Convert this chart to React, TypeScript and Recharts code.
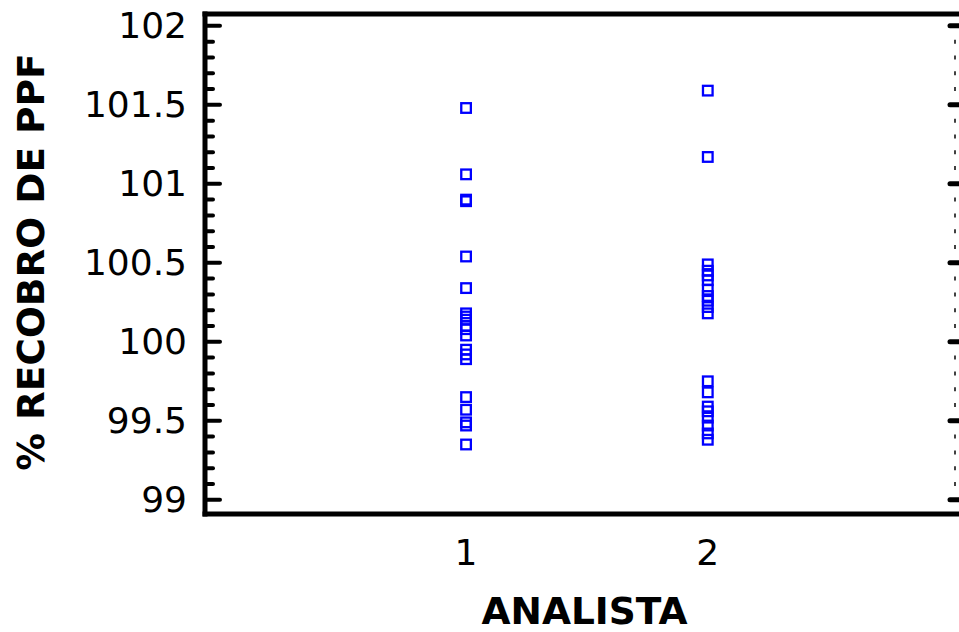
import React from 'react';
import { ScatterChart, Scatter, XAxis, YAxis, ReferenceLine } from 'recharts';

const analyst1 = [101.48, 101.06, 100.9, 100.89, 100.54, 100.34, 100.18, 100.16, 100.14, 100.1, 100.08, 100.04, 99.95, 99.92, 99.89, 99.65, 99.57, 99.49, 99.47, 99.35];
const analyst2 = [101.59, 101.17, 100.49, 100.45, 100.42, 100.39, 100.33, 100.29, 100.26, 100.22, 100.18, 99.75, 99.68, 99.59, 99.56, 99.52, 99.47, 99.42, 99.38];
const xTicks = [1, 2];
const yTicks = [99, 99.1, 99.2, 99.3, 99.4, 99.5, 99.6, 99.7, 99.8, 99.9, 100, 100.1, 100.2, 100.3, 100.4, 100.5, 100.6, 100.7, 100.8, 100.9, 101, 101.1, 101.2, 101.3, 101.4, 101.5, 101.6, 101.7, 101.8, 101.9, 102];
const majorTicks = [99, 99.5, 100, 100.5, 101, 101.5, 102];
const majorLabels = ['99', '99.5', '100', '100.5', '101', '101.5', '102'];
const Y_DOMAIN: [number, number] = [98.91, 102.075];
const X_DOMAIN: [number, number] = [-0.08, 3.06];

const points1 = analyst1.map((v) => ({ x: 1, y: v }));
const points2 = analyst2.map((v) => ({ x: 2, y: v }));

const FONT = '"DejaVu Sans", Verdana, sans-serif';
const BLUE = '#0000ff';

const majorIndex = (v: number) => majorTicks.findIndex((m) => Math.abs(m - v) < 1e-6);

const LeftTick = (props: any) => {
  const { x, y, payload } = props;
  const i = majorIndex(payload.value);
  const major = i >= 0;
  return (
    <g>
      <line x1={x} x2={x + (major ? 15 : 8)} y1={y} y2={y} stroke="#000" strokeWidth={4} strokeLinecap="round" />
      {major && (
        <text x={x - 18} y={y} textAnchor="end" dominantBaseline="central" fontFamily={FONT} fontSize={36} fill="#000">
          {majorLabels[i]}
        </text>
      )}
    </g>
  );
};

const RightTick = (props: any) => {
  const { x, y, payload } = props;
  const major = majorIndex(payload.value) >= 0;
  if (major) {
    return <line x1={x - 14} x2={x} y1={y} y2={y} stroke="#000" strokeWidth={5} strokeLinecap="round" />;
  }
  return <line x1={x - 9} x2={x - 9} y1={y - 2} y2={y + 2} stroke="#000" strokeWidth={1.5} />;
};

const BottomTick = (props: any) => {
  const { x, y, payload } = props;
  return (
    <text x={x} y={y + 38} textAnchor="middle" dominantBaseline="central" fontFamily={FONT} fontSize={36} fill="#000">
      {String(payload.value)}
    </text>
  );
};

const Square = (props: any) => {
  const { cx, cy } = props;
  if (cx == null || cy == null) return null;
  return <rect x={cx - 4.8} y={cy - 4.8} width={9.6} height={9.6} fill="none" stroke={BLUE} strokeWidth={2.3} />;
};

const YTitle = (props: any) => {
  const vb = props.viewBox || { x: 0, y: 14, width: 205, height: 500 };
  const cx = vb.x + 31;
  const cy = vb.y + vb.height / 2 - 2;
  return (
    <text
      x={cx}
      y={cy}
      transform={`rotate(-90, ${cx}, ${cy})`}
      textAnchor="middle"
      dominantBaseline="central"
      fontFamily={FONT}
      fontWeight="bold"
      fontSize={37.5}
      fill="#000"
    >
      % RECOBRO DE PPF
    </text>
  );
};

const axisLineStyle = { stroke: '#000', strokeWidth: 5, strokeLinecap: 'square' as const };

export default function App() {
  return (
    <div style={{ position: 'absolute', left: 0, top: 0, width: 959, height: 632, overflow: 'hidden', background: '#fff' }}>
      <ScatterChart width={975} height={632} margin={{ top: 14, right: 0, bottom: 0, left: 0 }}>
        <XAxis
          xAxisId="b"
          type="number"
          dataKey="x"
          domain={X_DOMAIN}
          ticks={xTicks}
          height={118}
          axisLine={axisLineStyle}
          tickLine={false}
          tickSize={0}
          tickMargin={0}
          tick={<BottomTick />}
          allowDataOverflow
          label={{
            value: 'ANALISTA',
            position: 'insideBottom',
            offset: 8,
            style: { fontFamily: FONT, fontWeight: 'bold', fontSize: 37.5, fill: '#000' },
          }}
        />
        <YAxis
          yAxisId="l"
          type="number"
          dataKey="y"
          domain={Y_DOMAIN}
          ticks={yTicks}
          interval={0}
          width={205}
          axisLine={axisLineStyle}
          tickLine={false}
          tickSize={0}
          tickMargin={0}
          tick={<LeftTick />}
          allowDataOverflow
          label={{ content: <YTitle /> }}
        />
        <YAxis
          yAxisId="r"
          orientation="right"
          type="number"
          domain={Y_DOMAIN}
          ticks={yTicks}
          interval={0}
          width={11}
          axisLine={axisLineStyle}
          tickLine={false}
          tickSize={0}
          tickMargin={0}
          tick={<RightTick />}
          allowDataOverflow
        />
        <ReferenceLine xAxisId="b" yAxisId="l" y={Y_DOMAIN[1]} stroke="#000" strokeWidth={5} strokeLinecap="square" ifOverflow="visible" />
        <Scatter xAxisId="b" yAxisId="l" data={points1} shape={<Square />} isAnimationActive={false} />
        <Scatter xAxisId="b" yAxisId="l" data={points2} shape={<Square />} isAnimationActive={false} />
      </ScatterChart>
    </div>
  );
}
